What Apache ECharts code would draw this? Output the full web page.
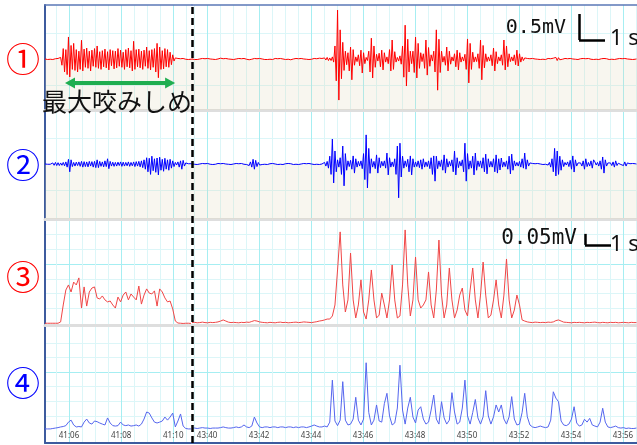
<!DOCTYPE html>
<html><head><meta charset="utf-8">
<script src="https://cdn.jsdelivr.net/npm/echarts@6/dist/echarts.min.js"></script>
<style>html,body{margin:0;padding:0;background:#fff}#c{width:637px;height:445px}</style>
</head><body><div id="c"></div>
<script>
// ---------- data ----------
const segL = [2465.08, 2470.72];          // seconds (41:05.08 .. 41:10.72)
const segR = [2619.42, 2636.54];          // seconds (43:39.42 .. 43:56.54)
const tickLabelsL = ['41:06','41:08','41:10'];
const tickLabelsR = ['43:40','43:42','43:44','43:46','43:48','43:50','43:52','43:54','43:56'];
const rawStep = 0.05, envStep = 0.1;      // sampling steps (s)
const channelNames = ['①','②','③','④'];
const annotation = '最大咬みしめ';
const scaleLabels = ['0.5mV','0.05mV'];
const scaleValues = [500, 50];            // µV heights of the scale bars
// values in µV
const ch1L = [0,10,-10,5,-5,10,-10,0,5,-10,10,-20,30,
-120,200,-250,180,-300,423,-346,260,-200,300,
-220,180,-250,150,-200,360,-230,190,-160,210,
-180,150,-230,170,-140,200,-160,250,-180,140,
-200,160,-150,190,-170,140,-210,180,-130,160,
-190,150,-170,200,-140,170,-160,130,-200,180,
-150,210,-170,160,-230,340,-200,180,-150,190,
-170,150,-200,170,-140,230,-180,160,-210,180,
-160,200,-250,300,-360,230,-200,160,-190,200,
-150,180,-160,130,-110,80,-40,
20,-10,10,-5,5,-10,10,0,-5,10,-10,5,-5,0];
const ch1R = [0,10,-10,5,-10,10,0,-5,10,-10,
5,-5,10,-10,0,10,-5,5,-10,10,
0,-10,15,-10,5,-5,10,-10,0,5,
-5,10,-10,5,0,-10,10,-5,5,-10,
10,0,-5,10,-15,10,-5,0,10,-10,
5,-5,10,-10,0,5,-10,15,-10,5,
-5,10,-10,0,10,-5,5,-10,10,-5,
0,10,-10,5,-5,10,-15,10,0,-5,
10,-10,5,-5,10,-10,0,10,-5,5,
-10,10,-5,0,10,-10,5,-5,15,-10,
10,-15,20,-20,30,-30,
20,-30,40,-60,
250,-420,940,-790,560,-380,320,-220,150,-110,
120,-230,230,-400,180,-120,
40,-50,80,-130,170,-270,120,-90,
30,-30,
150,-250,400,-365,250,-160,90,
-40,110,-150,170,-210,120,-60,
40,-90,180,-230,365,-200,140,-60,
30,-40,60,-100,
250,-350,650,-520,380,-250,150,
-90,150,-260,420,-365,300,-180,120,-50,
100,-180,365,-310,220,-140,80,-40,
150,-250,560,-600,380,-260,150,-60,
50,-120,230,-230,150,-100,40,
-40,100,-150,170,-210,120,-60,40,
-40,90,-200,385,-460,300,-200,130,-60,40,
-50,100,-180,365,-400,260,-170,100,-50,40,
-40,80,-130,210,-230,140,-90,40,-40,
80,-120,365,-210,250,-150,100,-50,40,
-40,80,-110,170,-135,100,-60,40,-30,
20,-15,10,-10,5,-5,10,-10,0,5,
-5,10,-10,5,-5,10,-10,0,10,-5,
5,-10,15,-20,30,-30,25,-15,10,-5,
0,10,-10,5,-5,10,-10,0,5,-5,
10,-10,0,5,-10,10,-5,5,-10,10,
0,-5,10,-10,5,-5,10,-10,0,5,
-5,10,-10,5,0,-10,10,-5,5,-10,
10,0,-5,10,-10,5,-5,10,-10,0,
5,-5,10,-10,5,-5,0];
const ch2L = [0,5,-5,10,-5,0,20,-25,30,-30,
25,-30,20,-25,30,-35,40,-60,90,-150,
80,-50,30,-40,35,-30,40,-45,50,-60,
45,-50,40,-55,50,-40,45,-60,50,-70,
80,-70,50,-45,40,-55,60,-50,100,-90,
50,-40,35,-45,30,-40,35,-30,40,-45,
35,-40,30,-35,40,-45,30,-35,40,-50,
45,-40,50,-55,60,-70,80,-100,120,-150,
110,-200,150,-130,100,-160,115,-210,130,-120,
90,-140,110,-100,80,-120,90,-80,60,-50,
30,-20,40,-60,60,-100,70,-40,20,-10,
5,-5,5,0];
const ch2R = [0,5,-5,10,-10,5,0,-5,10,-5,
5,-10,10,0,-5,5,-10,10,-5,0,
10,-10,5,-5,10,-10,0,5,-5,10,
-10,5,0,-10,10,-5,5,-10,10,0,
-5,10,-10,20,-30,40,-60,90,-100,70,
-50,30,-20,10,-10,5,-5,10,-10,0,
5,-10,10,-5,0,10,-10,5,-5,10,
-10,0,5,-5,10,-10,5,0,-10,10,
-5,5,-10,10,0,-5,10,-10,5,-5,
10,-10,0,5,-10,10,-5,5,-10,10,
0,-20,30,-40,50,-80,150,-200,480,-365,
250,-150,80,-60,120,-200,345,-420,200,-120,
60,-50,70,-100,155,-175,100,-60,50,-40,
60,-90,200,-300,560,-460,300,-180,100,-60,
50,-90,175,-175,120,-70,50,-40,60,-80,
210,-210,120,-60,40,-50,100,-200,345,-650,
400,-250,150,-80,60,-50,90,-150,155,-210,
100,-60,40,-50,60,-70,80,-100,100,-60,
40,-50,60,-90,120,-200,155,-330,150,-90,
60,-50,80,-120,175,-175,100,-60,50,-40,
80,-150,250,-210,120,-70,50,-40,80,-150,
400,-330,200,-100,60,-80,150,-210,210,-120,
60,-50,60,-80,120,-150,190,-190,100,-60,
50,-60,100,-150,175,-175,100,-115,115,-60,
40,-50,60,-100,150,-190,190,-120,60,-40,
30,-40,50,-60,100,-80,210,-100,80,-40,
20,-10,10,-5,5,-10,10,-5,0,5,
-10,10,-5,10,-20,30,-60,100,-150,300,
-230,250,-200,150,-120,80,-50,30,-20,40,
-50,70,-100,155,-155,80,-40,20,-10,20,
-40,60,-100,100,-50,30,-40,60,-80,80,
40,-20,30,-40,60,-100,135,-175,80,-40,
20,-15,20,-30,40,-60,60,-30,15,-10,
-10,20,-30,40,-40,20,-10,5,-5,10,
-5,5,0];
const ch3L = [8,8,8,8,8,8,14,91,159,182,
150,195,182,214,77,173,86,150,168,173,
123,118,132,114,105,109,91,77,127,105,
136,150,114,141,127,114,177,95,136,164,
145,141,155,86,164,150,123,105,109,73,
18,9,8,7,8,8,7];
const ch3R = [11,12,10,11,13,11,10,12,11,12,
14,18,23,18,13,11,12,11,10,12,
11,13,12,16,20,18,14,12,11,10,
12,11,10,12,13,11,12,10,11,12,
13,11,12,14,13,12,11,13,15,18,
20,23,27,27,41,91,250,423,182,59,
114,327,114,32,91,205,59,27,114,250,
114,32,45,145,91,32,114,273,114,32,
41,182,432,182,41,114,309,114,77,91,
114,241,91,32,159,386,136,32,91,259,
114,32,68,136,168,68,41,159,259,114,
32,136,286,136,32,45,114,205,91,32,
136,300,114,32,68,136,91,23,18,14,
12,11,13,12,11,12,11,13,12,14,
20,23,18,13,12,11,10,12,11,12,
11,10,12,11,12,13,11,10,12,11,
10,12,11,12,10,11,12,11,10,12,
11,11];
const ch4L = [5,5,5,7,9,11,14,16,20,36,
45,23,14,16,14,36,50,32,27,41,
38,32,27,23,55,32,20,18,20,36,
23,20,23,18,20,23,18,27,50,82,
77,55,36,32,36,41,59,45,59,77,
14,41,73,18,7,5,5];
const ch4R = [9,9,7,9,11,9,9,7,9,9,
9,11,14,11,9,9,11,14,11,14,
23,14,11,18,59,32,14,11,14,14,
11,14,14,11,14,14,11,14,14,11,
14,11,14,14,11,14,18,23,18,14,
14,18,14,36,227,41,20,45,220,45,
23,27,50,149,45,23,50,306,80,23,
45,114,41,36,120,167,64,23,32,100,
295,91,27,100,149,59,32,91,106,50,
27,36,91,159,50,27,129,55,27,45,
170,82,27,36,100,227,64,27,80,139,
55,27,60,179,64,27,60,114,82,114,
50,27,60,152,50,23,27,80,167,60,
23,14,11,14,18,14,11,14,45,174,
145,129,41,23,20,27,50,106,32,18,
23,49,36,53,23,18,14,36,99,36,
14,11,14,18,11,9,11,7,9,7,
7,9];
// annotation anchors in data units
const arrowSpan = [2466.04, 2469.88], arrowLevel = -460;
const scaleBar1 = [2634.31, 365];   // ch1, right segment
const scaleBar2 = [2634.54, 364];   // ch3, right segment

// ---------- layout / styles ----------
const C_MAJ = '#a6eef2', C_MIN = '#dcf6f8', C_BORDER = '#3d5b9e';
const SIDES = [{left:45, width:147, seg:segL, ticks:tickLabelsL},
               {left:192, right:0, seg:segR, ticks:tickLabelsR}];
const ROWS = [{top:5,height:105},{top:112,height:107},{top:222,height:103},{top:330,bottom:2}];
const Y_RANGE = [[-981,1038],[-1058,1000],[0,468],[-59,455]];
const H_LINES = [{major:[],minor:[-500,500]},{major:[],minor:[-500,500]},
                 {major:[277],minor:[77,144,210,344,411]},{major:[264],minor:[63,130,198,330,397]}];
const COLORS = ['#ff0000','#0000ff','#f04646','#5566ee'];
const DATA = [[ch1L,ch1R],[ch2L,ch2R],[ch3L,ch3R],[ch4L,ch4R]];
const STEPS = [rawStep, rawStep, envStep, envStep];

const toSec = s => { const p = s.split(':').map(Number); return p[0]*60 + p[1]; };
const fmt = v => { const m = Math.floor(v/60 + 1e-9); const s = Math.round(v - m*60); return m + ':' + String(s).padStart(2,'0'); };
const halfSteps = seg => { const out=[]; for (let t=Math.ceil(seg[0]*2)/2; t<=seg[1]+1e-9; t+=0.5) out.push(+t.toFixed(2)); return out; };

const grid = [], xAxis = [], yAxis = [], series = [];
// background grids: vertical lines, labels, border
SIDES.forEach((sd, k) => {
  grid.push({left:sd.left, width:sd.width, right:sd.right, top:5, bottom:2});
  const gi = grid.length-1;
  const majors = sd.ticks.map(toSec);
  const minors = halfSteps(sd.seg).filter(v => majors.indexOf(v) < 0);
  xAxis.push({type:'value', gridIndex:gi, min:sd.seg[0], max:sd.seg[1], position:'bottom',
    axisLine:{show:true, onZero:false, lineStyle:{color:C_BORDER, width:2}},
    axisTick:{show:false, customValues:majors},
    axisLabel:{show:true, customValues:majors, inside:true, margin:3, fontSize:8, color:'#444',
      fontFamily:'Noto Sans', formatter:fmt},
    splitLine:{show:true, lineStyle:{color:C_MAJ, width:1}}});
  xAxis.push({type:'value', gridIndex:gi, min:sd.seg[0], max:sd.seg[1], position:'bottom',
    axisLine:{show:false}, axisTick:{show:false, customValues:minors}, axisLabel:{show:false},
    splitLine:{show:true, lineStyle:{color:C_MIN, width:1}}});
  xAxis.push({type:'value', gridIndex:gi, min:sd.seg[0], max:sd.seg[1], position:'top',
    axisLine:{show:true, onZero:false, lineStyle:{color:'#5b78b6', width:1.5}}, axisTick:{show:false},
    axisLabel:{show:false}, splitLine:{show:false}});
  yAxis.push({type:'value', gridIndex:gi, min:0, max:1,
    axisLine:{show:k===0, onZero:false, lineStyle:{color:C_BORDER, width:2}}, axisTick:{show:false},
    axisLabel:{show:false}, splitLine:{show:false}});
  series.push({type:'line', xAxisIndex:xAxis.length-3, yAxisIndex:yAxis.length-1, data:[], silent:true,
    showSymbol:false,
    markLine: k===0 ? {silent:true, symbol:'none', label:{show:false}, animation:false,
      lineStyle:{color:'#000', type:[7,4], width:2.5}, data:[{xAxis:segL[1]}]} : undefined});
});

// channel grids
ROWS.forEach((row, r) => {
  SIDES.forEach((sd, k) => {
    grid.push(Object.assign({left:sd.left, width:sd.width, right:sd.right}, row));
    const gi = grid.length-1;
    xAxis.push({type:'value', gridIndex:gi, min:sd.seg[0], max:sd.seg[1], position:'bottom',
      axisLine:{show:r<3, onZero:false, lineStyle:{color:'#dedede', width:3}},
      axisTick:{show:false}, axisLabel:{show:false}, splitLine:{show:false}});
    const xi = xAxis.length-1;
    yAxis.push({type:'value', gridIndex:gi, min:Y_RANGE[r][0], max:Y_RANGE[r][1],
      axisLine:{show:false}, axisTick:{show:false, customValues:H_LINES[r].minor}, axisLabel:{show:false},
      splitLine:{show:H_LINES[r].minor.length>0, lineStyle:{color:C_MIN, width:1}}});
    if (H_LINES[r].major.length) {
      yAxis.push({type:'value', gridIndex:gi, min:Y_RANGE[r][0], max:Y_RANGE[r][1],
        axisLine:{show:false}, axisTick:{show:false, customValues:H_LINES[r].major}, axisLabel:{show:false},
        splitLine:{show:true, lineStyle:{color:C_MAJ, width:1}}});
    }
    const yi = yAxis.length-1;
    const arr = DATA[r][k], st = STEPS[r], t0 = sd.seg[0];
    const s = {type:'line', xAxisIndex:xi, yAxisIndex:yi, showSymbol:false, symbol:'none',
      animation:false, silent:true, clip:true,
      lineStyle:{color:COLORS[r], width:1}, z:3,
      data: arr.map((v,i) => [t0 + i*st, v])};
    if (r < 2) {
      s.markArea = {silent:true, itemStyle:{color:'rgba(225,212,180,0.22)'},
        data:[[{yAxis:Y_RANGE[r][0]},{yAxis:0}]]};
    }
    if (r===0 && k===0) {
      s.markLine = {silent:true, animation:false, symbol:['triangle','triangle'], symbolSize:[11,10],
        label:{show:false}, lineStyle:{color:'#1fae50', width:4, type:'solid'},
        data:[[{coord:[arrowSpan[0],arrowLevel]},{coord:[arrowSpan[1],arrowLevel]}]]};
    }
    if ((r===0 || r===2) && k===1) {
      const b = r===0 ? scaleBar1 : scaleBar2, h = r===0 ? scaleValues[0] : scaleValues[1];
      s.markLine = {silent:true, animation:false, symbol:'none', label:{show:false},
        lineStyle:{color:'#000', width:2.5, type:'solid'},
        data:[[{coord:[b[0],b[1]]},{coord:[b[0],b[1]+h]}],
              [{coord:[b[0],b[1]]},{coord:[b[0]+1,b[1]]}]]};
    }
    series.push(s);
  });
});

const CJK = '"Noto Sans CJK JP"';
const graphic = [];
const numY = [59,165,277,383];
channelNames.forEach((n,i) => graphic.push({type:'text', x:23, y:numY[i], z:100,
  style:{text:n, fill: i%2===0 ? '#ff0000' : '#0000ff', font:'34px '+CJK, align:'center', verticalAlign:'middle'}}));
graphic.push({type:'text', x:42, y:101, z:100,
  style:{text:annotation, fill:'#111', font:'25px '+CJK, align:'left', verticalAlign:'middle'}});
graphic.push({type:'text', x:566, y:28, z:100,
  style:{text:scaleLabels[0], fill:'#111', font:'20px "DejaVu Sans Mono"', align:'right', verticalAlign:'middle'}});
graphic.push({type:'text', x:610, y:39, z:100,
  style:{text:'1 s', fill:'#111', font:'22px "Noto Sans"', align:'left', verticalAlign:'middle'}});
graphic.push({type:'text', x:577, y:239, z:100,
  style:{text:scaleLabels[1], fill:'#111', font:'21px "DejaVu Sans Mono"', align:'right', verticalAlign:'middle'}});
graphic.push({type:'text', x:610, y:245, z:100,
  style:{text:'1 s', fill:'#111', font:'22px "Noto Sans"', align:'left', verticalAlign:'middle'}});

const chart = echarts.init(document.getElementById('c'), null, {renderer:'canvas'});
chart.setOption({animation:false, backgroundColor:'#fff', grid, xAxis, yAxis, series, graphic});
</script></body></html>
